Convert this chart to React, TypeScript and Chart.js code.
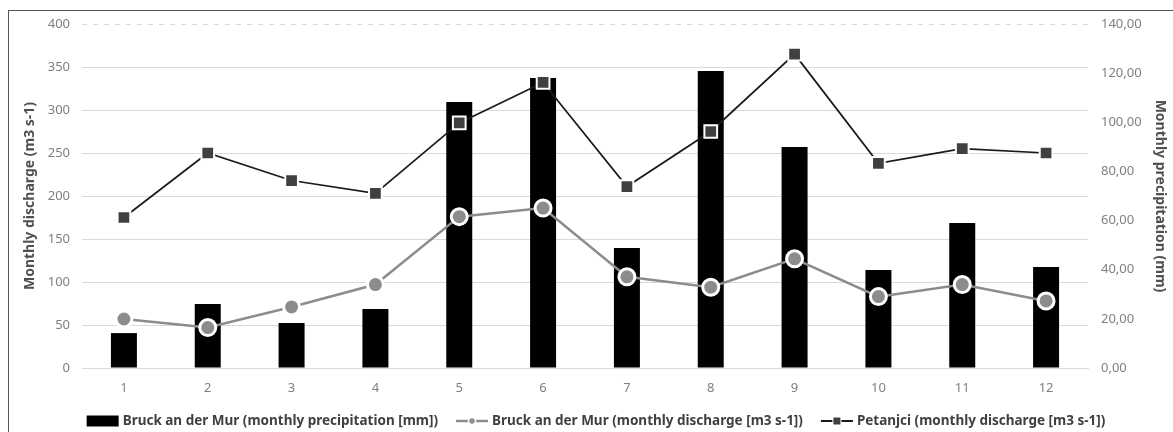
import { useEffect, useRef } from "react";
import { Chart, registerables } from "chart.js";

Chart.register(...registerables);

// ---- data ----
const months = ["1", "2", "3", "4", "5", "6", "7", "8", "9", "10", "11", "12"];
const bruckPrecipitation = [14.2, 26.0, 18.3, 24.0, 108.3, 118.0, 48.8, 120.9, 89.9, 39.9, 59.0, 41.1];
const bruckDischarge = [57, 47, 71, 97, 176, 186, 106, 94, 127, 83, 97, 78];
const petanjciDischarge = [175, 250, 218, 203, 285, 332, 211, 275, 365, 238, 255, 250];
const seriesLabels = [
  "Bruck an der Mur (monthly precipitation [mm])",
  "Bruck an der Mur (monthly discharge [m3 s-1])",
  "Petanjci (monthly discharge [m3 s-1])",
];
const leftAxisTitle = "Monthly discharge (m3 s-1)";
const rightAxisTitle = "Monthly precipitation (mm)";

const FONT = "'Noto Sans', 'Open Sans', sans-serif";
const TICK_COLOR = "#808080";
const GRID_COLOR = "#d9d9d9";
const TITLE_COLOR = "#505050";

const framePlugin = {
  id: "frame",
  afterDraw(chart: any) {
    const ctx = chart.ctx;
    ctx.save();
    ctx.strokeStyle = "#555555";
    ctx.lineWidth = 1;
    ctx.strokeRect(8.5, 10.5, 1300, 600);
    ctx.restore();
  },
};

// dashed top gridline (max of left axis)
const topGridPlugin = {
  id: "topGrid",
  beforeDatasetsDraw(chart: any) {
    const ctx = chart.ctx;
    const ys = chart.scales.y;
    const { left, right } = chart.chartArea;
    const py = Math.round(ys.getPixelForValue(ys.max)) + 0.5;
    ctx.save();
    ctx.strokeStyle = GRID_COLOR;
    ctx.lineWidth = 1;
    ctx.setLineDash([5, 6]);
    ctx.beginPath();
    ctx.moveTo(left, py);
    ctx.lineTo(right, py);
    ctx.stroke();
    ctx.restore();
  },
};

const legendPlugin = {
  id: "customLegend",
  afterDraw(chart: any) {
    const ctx = chart.ctx;
    ctx.save();
    ctx.font = `bold 13.5px ${FONT}`;
    const symW = 34;
    const gap = 2;
    const spacing = 18;
    const widths = seriesLabels.map((t) => ctx.measureText(t).width);
    const total = widths.reduce((a, w) => a + symW + gap + w, 0) + spacing * (seriesLabels.length - 1);
    let x = 596 - total / 2;
    const y = 421;
    seriesLabels.forEach((label, i) => {
      if (i === 0) {
        ctx.fillStyle = "#000";
        ctx.fillRect(x, y - 5.5, 32, 11);
      } else if (i === 1) {
        ctx.strokeStyle = "#8c8c8c";
        ctx.lineWidth = 2.5;
        ctx.beginPath();
        ctx.moveTo(x, y);
        ctx.lineTo(x + symW - 2, y);
        ctx.stroke();
        ctx.beginPath();
        ctx.arc(x + (symW - 2) / 2, y, 3.5, 0, Math.PI * 2);
        ctx.fillStyle = "#8c8c8c";
        ctx.fill();
        ctx.strokeStyle = "#fff";
        ctx.lineWidth = 1.5;
        ctx.stroke();
      } else {
        ctx.strokeStyle = "#1a1a1a";
        ctx.lineWidth = 2;
        ctx.beginPath();
        ctx.moveTo(x, y);
        ctx.lineTo(x + symW - 2, y);
        ctx.stroke();
        const cx = x + (symW - 2) / 2;
        ctx.fillStyle = "#fff";
        ctx.fillRect(cx - 4.5, y - 4.5, 9, 9);
        ctx.fillStyle = "#404040";
        ctx.fillRect(cx - 3.5, y - 3.5, 7, 7);
      }
      ctx.fillStyle = "#404040";
      ctx.textBaseline = "middle";
      ctx.textAlign = "left";
      ctx.fillText(label, x + symW + gap, y);
      x += symW + gap + widths[i] + spacing;
    });
    ctx.restore();
  },
};

export default function App() {
  const canvasRef = useRef<HTMLCanvasElement | null>(null);

  useEffect(() => {
    document.body.style.margin = "0";
    const canvas = canvasRef.current;
    if (!canvas) return;
    const chart = new Chart(canvas, {
      type: "bar",
      data: {
        labels: months,
        datasets: [
          {
            type: "line",
            label: seriesLabels[2],
            data: petanjciDischarge,
            yAxisID: "y",
            borderColor: "#1a1a1a",
            borderWidth: 1.75,
            pointStyle: "rect",
            pointRadius: 9,
            pointBackgroundColor: "#404040",
            pointBorderColor: "#ffffff",
            pointBorderWidth: 2,
            order: 1,
          } as any,
          {
            type: "line",
            label: seriesLabels[1],
            data: bruckDischarge,
            yAxisID: "y",
            borderColor: "#8c8c8c",
            borderWidth: 2.5,
            pointStyle: "circle",
            pointRadius: 8,
            pointBackgroundColor: "#8c8c8c",
            pointBorderColor: "#ffffff",
            pointBorderWidth: 3,
            order: 2,
          } as any,
          {
            type: "bar",
            label: seriesLabels[0],
            data: bruckPrecipitation,
            yAxisID: "y1",
            backgroundColor: "#000000",
            barPercentage: 0.31,
            categoryPercentage: 1,
            order: 3,
          },
        ],
      },
      options: {
        animation: false,
        responsive: true,
        maintainAspectRatio: false,
        layout: { padding: { left: 0, right: 0, top: 24, bottom: 0 } },
        plugins: {
          legend: { display: false },
          tooltip: { enabled: false },
        },
        scales: {
          x: {
            grid: { display: false, drawTicks: false },
            border: { display: true, color: GRID_COLOR, width: 1 },
            ticks: { color: TICK_COLOR, font: { family: FONT, size: 13 }, padding: 12 },
            afterFit(scale: any) {
              scale.height = 64;
            },
          },
          y: {
            position: "left",
            min: 0,
            max: 400,
            ticks: { stepSize: 50, color: TICK_COLOR, font: { family: FONT, size: 13 }, padding: 12 },
            grid: {
              color: (ctx: any) => (ctx.tick && ctx.tick.value === 400 ? "rgba(0,0,0,0)" : GRID_COLOR),
              lineWidth: 1,
              drawTicks: false,
            },
            border: { display: false },
            title: {
              display: true,
              text: leftAxisTitle,
              color: TITLE_COLOR,
              font: { family: FONT, size: 14, weight: "bold" },
              padding: { top: 22, bottom: 0 },
            },
            afterFit(scale: any) {
              scale.width = 82;
            },
          },
          y1: {
            position: "right",
            min: 0,
            max: 140,
            ticks: {
              stepSize: 20,
              color: TICK_COLOR,
              font: { family: FONT, size: 13 },
              padding: 13,
              callback: (v: any) => Number(v).toFixed(2).replace(".", ","),
            },
            grid: { drawOnChartArea: false, drawTicks: false },
            border: { display: false },
            title: {
              display: true,
              text: rightAxisTitle,
              color: TITLE_COLOR,
              font: { family: FONT, size: 14, weight: "bold" },
              padding: { top: 5, bottom: 0 },
            },
            afterFit(scale: any) {
              scale.width = 85;
            },
          },
        },
      } as any,
      plugins: [framePlugin, topGridPlugin, legendPlugin],
    });
    return () => chart.destroy();
  }, []);

  return (
    <div style={{ position: "relative", width: "1173px", height: "432px" }}>
      <canvas ref={canvasRef} />
    </div>
  );
}
